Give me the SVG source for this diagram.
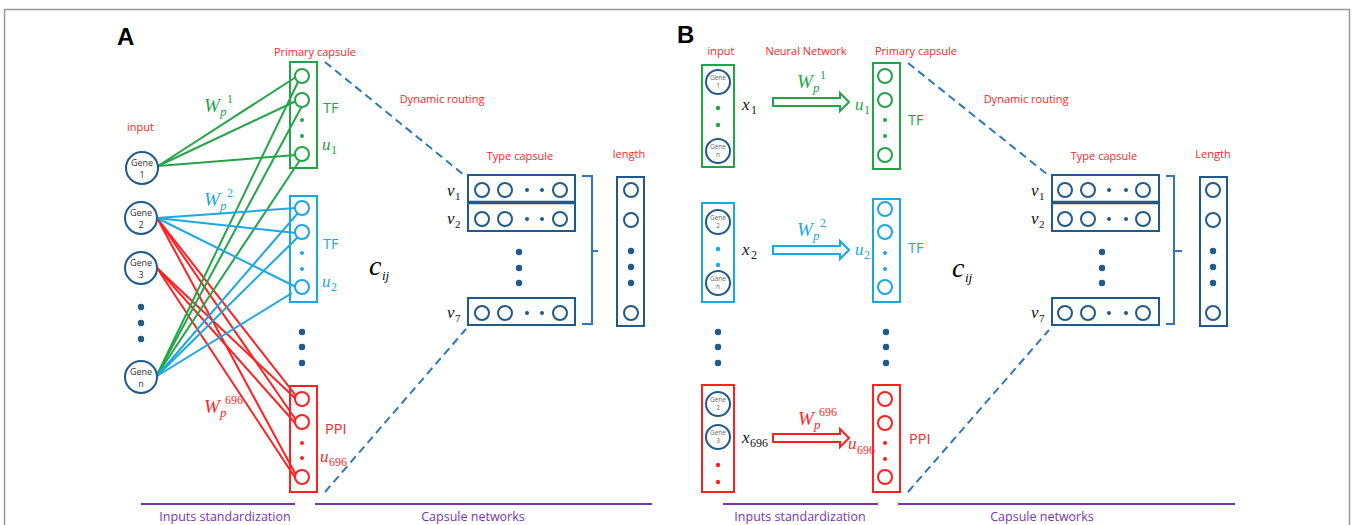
<svg xmlns="http://www.w3.org/2000/svg" width="1352" height="525" viewBox="0 0 1352 525">
<defs>
<style>
.lbl{font-family:"Open Sans","Liberation Sans",sans-serif;font-size:11px}
.tf{font-family:"Open Sans","Liberation Sans",sans-serif;font-size:14.5px}
.sec{font-family:"Open Sans","Liberation Sans",sans-serif;font-size:12.5px;text-anchor:middle}
.red{fill:#ff2525}
.grn{fill:#22a548}
.cyn{fill:#1aa8e4}
.pur{fill:#7a35ad}
.big{font-family:"Liberation Sans",sans-serif;font-weight:bold;font-size:24px;fill:#000}
.m{font-family:"Liberation Serif",serif;font-style:italic}
.n{font-family:"Liberation Serif",serif}
.gene{font-family:"Open Sans","Liberation Sans",sans-serif;font-size:9px;fill:#333;text-anchor:middle}
.geneb{font-family:"Open Sans","Liberation Sans",sans-serif;font-size:6.5px;fill:#666;text-anchor:middle}
.gc{fill:#fff;stroke:#205a8a;stroke-width:2}
.box{fill:none;stroke-width:2}
.cir{fill:#fff;stroke-width:2}
.dash{fill:none;stroke:#2f78b8;stroke-width:2;stroke-dasharray:8 5}
.wl{stroke-width:2;fill:none}
.tbox{fill:#fff;stroke:#205a8a;stroke-width:2}
.tc{fill:#fff;stroke:#205a8a;stroke-width:2}
.td{fill:#205a8a}
</style>
</defs>

<path d="M4.5,525 V9.5 H1349.5 V525" stroke="#9a9a9a" fill="none" stroke-width="1.5"/>

<!-- ================= PANEL A ================= -->
<text class="big" x="117" y="45">A</text>
<text class="lbl red" x="127" y="131">input</text>
<text class="lbl red" x="315" y="56" text-anchor="middle">Primary capsule</text>
<text class="lbl red" x="442" y="103" text-anchor="middle">Dynamic routing</text>
<text class="lbl red" x="520" y="160" text-anchor="middle">Type capsule</text>
<text class="lbl red" x="629" y="158" text-anchor="middle">length</text>

<!-- connectors A -->
<g id="connectors-A">
<g stroke="#ff2020" class="wl">
<line x1="157" y1="218" x2="297" y2="397"/>
<line x1="157" y1="218" x2="296" y2="420"/>
<line x1="157" y1="218" x2="296" y2="475"/>
<line x1="157" y1="268" x2="297" y2="400"/>
<line x1="157" y1="268" x2="296" y2="424"/>
<line x1="157" y1="268" x2="296" y2="479"/>
</g>
<g stroke="#22a548" class="wl">
<line x1="158" y1="166" x2="296" y2="77"/>
<line x1="158" y1="166" x2="296" y2="101"/>
<line x1="158" y1="166" x2="296" y2="155"/>
<line x1="157" y1="375" x2="298" y2="82"/>
<line x1="157" y1="375" x2="302" y2="106"/>
<line x1="157" y1="375" x2="300" y2="160"/>
</g>
<g stroke="#1aa8e4" class="wl">
<line x1="157" y1="218" x2="296" y2="208"/>
<line x1="157" y1="218" x2="296" y2="233"/>
<line x1="157" y1="218" x2="296" y2="287"/>
<line x1="157" y1="376" x2="298" y2="213"/>
<line x1="157" y1="376" x2="298" y2="237"/>
<line x1="157" y1="376" x2="292" y2="293"/>
</g>
<path class="dash" d="M325,62 L464,175"/>
<path class="dash" d="M325,492 L466,329"/>
</g>

<!-- genes A -->
<g id="gene1-A"><circle class="gc" cx="142" cy="168" r="16"/><text class="gene" x="142" y="166">Gene</text><text class="gene" x="142" y="178">1</text></g>
<g id="gene2-A"><circle class="gc" cx="141" cy="218" r="16"/><text class="gene" x="141" y="216">Gene</text><text class="gene" x="141" y="228">2</text></g>
<g id="gene3-A"><circle class="gc" cx="141" cy="268" r="16"/><text class="gene" x="141" y="266">Gene</text><text class="gene" x="141" y="278">3</text></g>
<g id="genedots-A" class="td"><circle cx="141" cy="307" r="3.2"/><circle cx="141" cy="323" r="3.2"/><circle cx="141" cy="339" r="3.2"/></g>
<g id="genen-A"><circle class="gc" cx="141" cy="377" r="16"/><text class="gene" x="141" y="375">Gene</text><text class="gene" x="141" y="387">n</text></g>

<!-- primary capsules A -->
<g id="pc-tf1-A" stroke="#22a548">
<rect class="box" x="290" y="62" width="27" height="106"/>
<circle class="cir" cx="302" cy="76" r="7"/><circle class="cir" cx="302" cy="100" r="7"/><circle class="cir" cx="302" cy="154" r="7"/>
<circle cx="302" cy="120" r="2" fill="#22a548" stroke="none"/><circle cx="302" cy="136" r="2" fill="#22a548" stroke="none"/>
</g>
<g id="pc-tf2-A" stroke="#1aa8e4">
<rect class="box" x="290" y="196" width="27" height="106"/>
<circle class="cir" cx="302" cy="208" r="7"/><circle class="cir" cx="302" cy="232" r="7"/><circle class="cir" cx="302" cy="287" r="7"/>
<circle cx="302" cy="253" r="2" fill="#1aa8e4" stroke="none"/><circle cx="302" cy="269" r="2" fill="#1aa8e4" stroke="none"/>
</g>
<g id="pc-dots-A" class="td"><circle cx="302" cy="332" r="3.2"/><circle cx="302" cy="347" r="3.2"/><circle cx="302" cy="363" r="3.2"/></g>
<g id="pc-ppi-A" stroke="#ff2020">
<rect class="box" x="290" y="386" width="27" height="106"/>
<circle class="cir" cx="302" cy="399" r="7"/><circle class="cir" cx="302" cy="422" r="7"/><circle class="cir" cx="302" cy="477" r="7"/>
<circle cx="302" cy="443" r="2" fill="#ff2020" stroke="none"/><circle cx="302" cy="458" r="2" fill="#ff2020" stroke="none"/>
</g>

<!-- labels A -->
<text class="tf grn" x="323" y="113">TF</text>
<text class="tf cyn" x="323" y="249">TF</text>
<text class="tf red" x="325" y="434">PPI</text>
<g class="grn"><text class="m" x="322" y="150" font-size="17">u</text><text class="n" x="331" y="154" font-size="12">1</text></g>
<g class="cyn"><text class="m" x="322" y="287" font-size="17">u</text><text class="n" x="331" y="291" font-size="12">2</text></g>
<g class="red"><text class="m" x="320" y="462" font-size="17">u</text><text class="n" x="329" y="466" font-size="12">696</text></g>
<g class="grn"><text class="m" x="204" y="112" font-size="19">W</text><text class="m" x="220" y="116" font-size="13">p</text><text class="n" x="227" y="103" font-size="12">1</text></g>
<g class="cyn"><text class="m" x="204" y="206" font-size="19">W</text><text class="m" x="220" y="210" font-size="13">p</text><text class="n" x="227" y="197" font-size="12">2</text></g>
<g class="red"><text class="m" x="204" y="413" font-size="19">W</text><text class="m" x="220" y="417" font-size="13">p</text><text class="n" x="225" y="404" font-size="12">696</text></g>
<g><text class="m" x="369" y="275" font-size="28">c</text><text class="m" x="382" y="280" font-size="13">ij</text></g>

<!-- type capsule A -->
<g id="type-capsule-A">
<rect class="tbox" x="468" y="175" width="107" height="56"/>
<line x1="468" y1="202.5" x2="575" y2="202.5" stroke="#205a8a" stroke-width="3.5"/>
<circle class="tc" cx="482" cy="190" r="7"/><circle class="tc" cx="505" cy="190" r="7"/><circle class="td" cx="527" cy="190" r="2"/><circle class="td" cx="542" cy="190" r="2"/><circle class="tc" cx="560" cy="190" r="7"/>
<circle class="tc" cx="482" cy="219" r="7"/><circle class="tc" cx="505" cy="219" r="7"/><circle class="td" cx="527" cy="219" r="2"/><circle class="td" cx="542" cy="219" r="2"/><circle class="tc" cx="560" cy="219" r="7"/>
<circle class="td" cx="519" cy="252" r="3.2"/><circle class="td" cx="519" cy="268" r="3.2"/><circle class="td" cx="519" cy="283" r="3.2"/>
<rect class="tbox" x="468" y="298" width="107" height="27"/>
<circle class="tc" cx="482" cy="313" r="7"/><circle class="tc" cx="505" cy="313" r="7"/><circle class="td" cx="527" cy="313" r="2"/><circle class="td" cx="542" cy="313" r="2"/><circle class="tc" cx="560" cy="313" r="7"/>
<text class="m" x="447" y="196" font-size="17" fill="#111">v</text><text class="n" x="455" y="200" font-size="11" fill="#111">1</text>
<text class="m" x="447" y="224" font-size="17" fill="#111">v</text><text class="n" x="455" y="228" font-size="11" fill="#111">2</text>
<text class="m" x="447" y="318" font-size="17" fill="#111">v</text><text class="n" x="455" y="322" font-size="11" fill="#111">7</text>
<path d="M582,176 H592 V324 H582 M592,251 H598" fill="none" stroke="#2f78b8" stroke-width="2"/>
</g>
<g id="length-A">
<rect class="tbox" x="617" y="177" width="27" height="149"/>
<circle class="tc" cx="631" cy="190" r="7"/><circle class="tc" cx="631" cy="220" r="7"/>
<circle class="td" cx="631" cy="251" r="3.2"/><circle class="td" cx="631" cy="267" r="3.2"/><circle class="td" cx="631" cy="283" r="3.2"/>
<circle class="tc" cx="631" cy="313" r="7"/>
</g>

<g id="section-A" stroke="#7a35ad" stroke-width="2">
<line x1="141" y1="504" x2="295" y2="504"/>
<line x1="315" y1="504" x2="652" y2="504"/>
</g>
<text class="sec pur" x="225" y="521">Inputs standardization</text>
<text class="sec pur" x="473" y="521">Capsule networks</text>

<!-- ================= PANEL B ================= -->
<text class="big" x="677" y="43">B</text>
<text class="lbl red" x="721" y="55" text-anchor="middle">input</text>
<text class="lbl red" x="806" y="55" text-anchor="middle">Neural Network</text>
<text class="lbl red" x="916" y="55" text-anchor="middle">Primary capsule</text>
<text class="lbl red" x="1026" y="103" text-anchor="middle">Dynamic routing</text>
<text class="lbl red" x="1104" y="160" text-anchor="middle">Type capsule</text>
<text class="lbl red" x="1213" y="158" text-anchor="middle">Length</text>

<g id="connectors-B">
<polygon points="773,98 840,98 840,93 849,102 840,111 840,106 773,106" fill="#fff" stroke="#22a548" stroke-width="2"/>
<polygon points="773,246 840,246 840,241 849,250 840,259 840,254 773,254" fill="#fff" stroke="#1aa8e4" stroke-width="2"/>
<polygon points="773,434 840,434 840,429 849,438 840,447 840,442 773,442" fill="#fff" stroke="#ff2020" stroke-width="2"/>
<path class="dash" d="M908,63 L1048,175"/>
<path class="dash" d="M908,492 L1049,330"/>
</g>

<g id="input-tf1-B">
<rect class="box" x="702" y="65" width="32" height="102" stroke="#22a548"/>
<circle class="gc" cx="718" cy="82" r="12" stroke-width="1.6"/><text class="geneb" x="718" y="80">Gene</text><text class="geneb" x="718" y="88">1</text>
<circle cx="718" cy="108" r="2.2" fill="#22a548"/><circle cx="718" cy="125" r="2.2" fill="#22a548"/>
<circle class="gc" cx="718" cy="151" r="12" stroke-width="1.6"/><text class="geneb" x="718" y="149">Gene</text><text class="geneb" x="718" y="157">n</text>
</g>
<g id="input-tf2-B">
<rect class="box" x="702" y="203" width="32" height="99" stroke="#1aa8e4"/>
<circle class="gc" cx="718" cy="222" r="12" stroke-width="1.6"/><text class="geneb" x="718" y="220">Gene</text><text class="geneb" x="718" y="228">2</text>
<circle cx="718" cy="249" r="2.2" fill="#1aa8e4"/><circle cx="718" cy="265" r="2.2" fill="#1aa8e4"/>
<circle class="gc" cx="718" cy="283" r="12" stroke-width="1.6"/><text class="geneb" x="718" y="281">Gane</text><text class="geneb" x="718" y="289">n</text>
</g>
<g id="input-dots-B" class="td"><circle cx="718" cy="332" r="3.2"/><circle cx="718" cy="347" r="3.2"/><circle cx="718" cy="363" r="3.2"/></g>
<g id="input-ppi-B">
<rect class="box" x="702" y="385" width="32" height="107" stroke="#ff2020"/>
<circle class="gc" cx="718" cy="404" r="12" stroke-width="1.6"/><text class="geneb" x="718" y="402">Gene</text><text class="geneb" x="718" y="410">2</text>
<circle class="gc" cx="718" cy="437" r="12" stroke-width="1.6"/><text class="geneb" x="718" y="435">Gene</text><text class="geneb" x="718" y="443">3</text>
<circle cx="718" cy="465" r="2.2" fill="#ff2020"/><circle cx="718" cy="482" r="2.2" fill="#ff2020"/>
</g>

<g fill="#111"><text class="m" x="742" y="110" font-size="17">x</text><text class="n" x="751" y="114" font-size="12">1</text></g>
<g fill="#111"><text class="m" x="742" y="255" font-size="17">x</text><text class="n" x="751" y="259" font-size="12">2</text></g>
<g fill="#111"><text class="m" x="742" y="443" font-size="17">x</text><text class="n" x="750" y="447" font-size="12">696</text></g>

<g class="grn"><text class="m" x="797" y="88" font-size="19">W</text><text class="m" x="813" y="92" font-size="13">p</text><text class="n" x="820" y="79" font-size="12">1</text></g>
<g class="cyn"><text class="m" x="797" y="236" font-size="19">W</text><text class="m" x="813" y="240" font-size="13">p</text><text class="n" x="820" y="227" font-size="12">2</text></g>
<g class="red"><text class="m" x="798" y="425" font-size="19">W</text><text class="m" x="814" y="429" font-size="13">p</text><text class="n" x="819" y="416" font-size="12">696</text></g>

<g class="grn"><text class="m" x="855" y="110" font-size="17">u</text><text class="n" x="864" y="114" font-size="12">1</text></g>
<g class="cyn"><text class="m" x="855" y="255" font-size="17">u</text><text class="n" x="864" y="259" font-size="12">2</text></g>
<g class="red"><text class="m" x="848" y="449" font-size="17">u</text><text class="n" x="857" y="454" font-size="12">696</text></g>

<g id="pc-tf1-B" stroke="#22a548">
<rect class="box" x="873" y="63" width="27" height="106"/>
<circle class="cir" cx="885" cy="76" r="7"/><circle class="cir" cx="885" cy="100" r="7"/><circle class="cir" cx="885" cy="155" r="7"/>
<circle cx="885" cy="120" r="2" fill="#22a548" stroke="none"/><circle cx="885" cy="136" r="2" fill="#22a548" stroke="none"/>
</g>
<g id="pc-tf2-B" stroke="#1aa8e4">
<rect class="box" x="873" y="199" width="27" height="103"/>
<circle class="cir" cx="885" cy="209" r="7"/><circle class="cir" cx="885" cy="232" r="7"/><circle class="cir" cx="885" cy="287" r="7"/>
<circle cx="885" cy="253" r="2" fill="#1aa8e4" stroke="none"/><circle cx="885" cy="269" r="2" fill="#1aa8e4" stroke="none"/>
</g>
<g id="pc-dots-B" class="td"><circle cx="886" cy="332" r="3.2"/><circle cx="886" cy="347" r="3.2"/><circle cx="886" cy="363" r="3.2"/></g>
<g id="pc-ppi-B" stroke="#ff2020">
<rect class="box" x="873" y="385" width="27" height="107"/>
<circle class="cir" cx="885" cy="399" r="7"/><circle class="cir" cx="885" cy="423" r="7"/><circle class="cir" cx="885" cy="477" r="7"/>
<circle cx="885" cy="443" r="2" fill="#ff2020" stroke="none"/><circle cx="885" cy="459" r="2" fill="#ff2020" stroke="none"/>
</g>

<text class="tf grn" x="908" y="125">TF</text>
<text class="tf cyn" x="908" y="253">TF</text>
<text class="tf red" x="909" y="444">PPI</text>
<g><text class="m" x="952" y="277" font-size="28">c</text><text class="m" x="965" y="282" font-size="13">ij</text></g>

<g id="type-capsule-B" transform="translate(584,0)">
<rect class="tbox" x="468" y="175" width="107" height="56"/>
<line x1="468" y1="202.5" x2="575" y2="202.5" stroke="#205a8a" stroke-width="3.5"/>
<circle class="tc" cx="481" cy="190" r="7"/><circle class="tc" cx="504" cy="190" r="7"/><circle class="td" cx="525" cy="190" r="2"/><circle class="td" cx="542" cy="190" r="2"/><circle class="tc" cx="559" cy="190" r="7"/>
<circle class="tc" cx="481" cy="219" r="7"/><circle class="tc" cx="504" cy="219" r="7"/><circle class="td" cx="525" cy="219" r="2"/><circle class="td" cx="542" cy="219" r="2"/><circle class="tc" cx="559" cy="219" r="7"/>
<circle class="td" cx="518" cy="252" r="3.2"/><circle class="td" cx="518" cy="268" r="3.2"/><circle class="td" cx="518" cy="283" r="3.2"/>
<rect class="tbox" x="468" y="298" width="107" height="27"/>
<circle class="tc" cx="481" cy="313" r="7"/><circle class="tc" cx="504" cy="313" r="7"/><circle class="td" cx="525" cy="313" r="2"/><circle class="td" cx="542" cy="313" r="2"/><circle class="tc" cx="559" cy="313" r="7"/>
<text class="m" x="447" y="196" font-size="17" fill="#111">v</text><text class="n" x="455" y="200" font-size="11" fill="#111">1</text>
<text class="m" x="447" y="224" font-size="17" fill="#111">v</text><text class="n" x="455" y="228" font-size="11" fill="#111">2</text>
<text class="m" x="447" y="318" font-size="17" fill="#111">v</text><text class="n" x="455" y="322" font-size="11" fill="#111">7</text>
<path d="M582,176 H590 V324 H582 M590,251 H598" fill="none" stroke="#2f78b8" stroke-width="2"/>
</g>
<g id="length-B" transform="translate(583,0)">
<rect class="tbox" x="617" y="177" width="27" height="149"/>
<circle class="tc" cx="630" cy="190" r="7"/><circle class="tc" cx="630" cy="220" r="7"/>
<circle class="td" cx="630" cy="251" r="3.2"/><circle class="td" cx="630" cy="267" r="3.2"/><circle class="td" cx="630" cy="283" r="3.2"/>
<circle class="tc" cx="630" cy="313" r="7"/>
</g>

<g id="section-B" stroke="#7a35ad" stroke-width="2">
<line x1="723" y1="504" x2="878" y2="504"/>
<line x1="898" y1="504" x2="1235" y2="504"/>
</g>
<text class="sec pur" x="800" y="521">Inputs standardization</text>
<text class="sec pur" x="1042" y="521">Capsule networks</text>
</svg>
